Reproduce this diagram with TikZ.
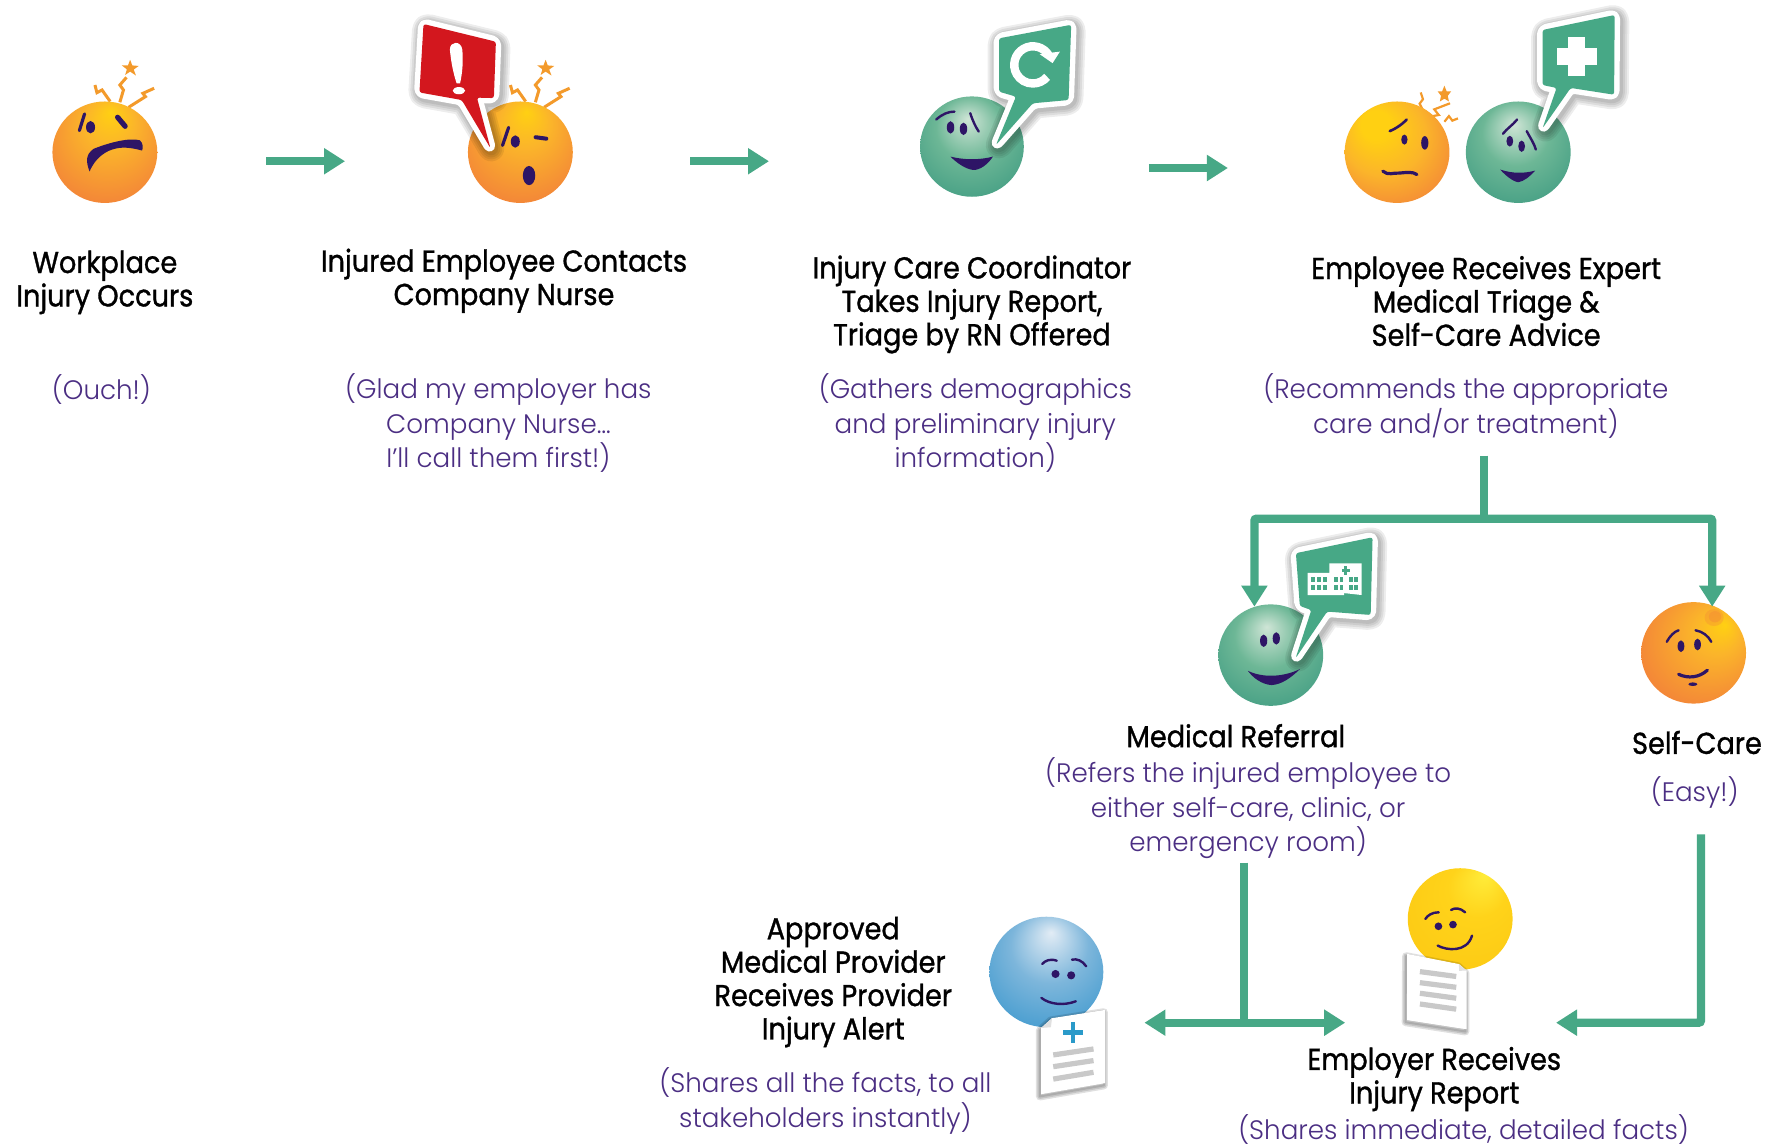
\documentclass[tikz,border=0pt]{standalone}
\usepackage{fontspec}
\usetikzlibrary{arrows.meta}
\newfontfamily\headfont[FakeStretch=0.9,FakeBold=1.1]{Poppins}
\newfontfamily\notefont[FakeStretch=0.98]{Poppins Light}
\definecolor{arrowgreen}{HTML}{47A886}
\definecolor{notepurple}{HTML}{4B2E83}
\definecolor{ink}{HTML}{2E1566}
\definecolor{spark}{HTML}{F39A2B}
\definecolor{bubblered}{HTML}{D3171E}
\definecolor{paperline}{HTML}{C9C9C9}
\definecolor{crossblue}{HTML}{2A9AC9}
\definecolor{oA}{HTML}{FFD012}\definecolor{oB}{HTML}{FBB52A}\definecolor{oC}{HTML}{F48A37}\definecolor{oD}{HTML}{EE6640}
\definecolor{gA}{HTML}{CFE5D6}\definecolor{gB}{HTML}{6DB796}\definecolor{gC}{HTML}{47A085}\definecolor{gD}{HTML}{3B8A76}
\definecolor{bA}{HTML}{E2ECF5}\definecolor{bB}{HTML}{7DB6DB}\definecolor{bC}{HTML}{3F99CE}\definecolor{bD}{HTML}{2F86BD}
\definecolor{yA}{HTML}{FFEC3A}\definecolor{yB}{HTML}{FFD31A}\definecolor{yC}{HTML}{FBC612}
\pgfdeclareradialshading{ballorange}{\pgfpoint{3bp}{20bp}}{color(0bp)=(oA); color(12bp)=(oB); color(30bp)=(oC); color(45bp)=(oD)}
\pgfdeclareradialshading{ballorangeL}{\pgfpoint{-12bp}{16bp}}{color(0bp)=(oA); color(7bp)=(oA); color(20bp)=(oB); color(33bp)=(oC); color(45bp)=(oD)}
\pgfdeclareradialshading{ballorangeR}{\pgfpoint{15bp}{14bp}}{color(0bp)=(oA); color(11bp)=(oB); color(30bp)=(oC); color(46bp)=(oD)}
\pgfdeclareradialshading{ballgreen}{\pgfpoint{-2bp}{14bp}}{color(0bp)=(gA); color(16bp)=(gB); color(32bp)=(gC); color(48bp)=(gD)}
\pgfdeclareradialshading{ballblue}{\pgfpoint{2bp}{18bp}}{color(0bp)=(bA); color(17bp)=(bB); color(36bp)=(bC); color(50bp)=(bD)}
\pgfdeclareradialshading{ballyellow}{\pgfpoint{12bp}{22bp}}{color(0bp)=(yA); color(14bp)=(yB); color(43bp)=(yC)}
\tikzset{
 headtxt/.style={align=center,inner sep=0pt,text=black,font=\headfont\fontsize{15.1}{16.7}\selectfont},
 notetxt/.style={align=center,inner sep=0pt,text=notepurple,font=\notefont\fontsize{13.35}{17.2}\selectfont},
 flow/.style={draw=arrowgreen,line width=4.1pt,-{Triangle[length=10.5pt,width=12.5pt]}},
 flowboth/.style={draw=arrowgreen,line width=4.1pt,{Triangle[length=10.5pt,width=12.5pt]}-{Triangle[length=10.5pt,width=12.5pt]}},
 trunk/.style={draw=arrowgreen,line width=4.1pt},
 feat/.style={draw=ink,line width=1.6pt,line cap=round,line join=round},
 featthin/.style={draw=ink,line width=1.2pt,line cap=round,line join=round},
 blob/.style={fill=ink,draw=none},
 zig/.style={draw=spark,line width=1.5pt,line join=miter},
 paperrule/.style={draw=paperline,line width=2.6pt},
 bubbleoutline/.style={draw=white,line width=5.4pt,line join=round,rounded corners=2pt},
}
\newcommand{\ballat}[5]{\shade[shading=#5] (#1,#2) ellipse [x radius=#3,y radius=#4];}
\newcommand{\softbubble}[2]{%
 \foreach \w in {13,11,9,7}{\draw[black,opacity=.07,line width=\w pt,line join=round,rounded corners=2pt,shift={(1.5,2)}] #1;}
 \draw[bubbleoutline,fill=white] #1;
 \fill[#2,rounded corners=1.2pt] #1;}
\newcommand{\softpaper}[1]{%
 \foreach \w in {4,2.5,1}{\draw[black,opacity=.12,line width=\w pt,line join=round,shift={(-1,2)}] #1;}
 \fill[white] #1;}
\newcommand{\sparksat}[2]{\begin{scope}[shift={(#1,#2)}]
 \draw[zig] (4.7,-45)--(-2.5,-55.2)--(-7,-52.8)--(-8.8,-59.6);
 \draw[zig] (13.3,-44.3)--(16.5,-55.2)--(13.3,-59.6)--(19.2,-66.4);
 \draw[zig] (21,-39.8)--(36,-49.3)--(33.7,-52.2)--(43.7,-56.7);
 \fill[spark] (22.4,-82)--(24.3,-77)--(30,-76.5)--(25.6,-73.3)--(27.6,-68)--(22.4,-71.5)--(18,-68.5)--(19.5,-73.5)--(15,-77)--(20.5,-77)--cycle;
\end{scope}}
\begin{document}
\begin{tikzpicture}[x=0.5638pt,y=-0.5638pt]
\useasboundingbox (0,0) rectangle (1568,1016.4);
\fill[white] (0,0) rectangle (1568,1016.4);

% --- face 1
\sparksat{93}{135}
\ballat{93}{135}{46.5}{45}{ballorange}
\begin{scope}[shift={(93,135)}]
 \draw[feat] (-18,-34)--(-22.6,-19.2);
 \fill[blob] (-12.7,-22.2) ellipse [x radius=4,y radius=5.5];
 \draw[draw=ink,line width=2.6pt,line cap=round] (11.3,-31)--(18,-23);
 \fill[blob] (-13.6,17.1)..controls (-17,8) and (-17,2)..(-10,-3)..controls (5,-9) and (22,-13)..(31,-10.6)..controls (34,-8) and (34,-4)..(33,-1.5)..controls (20,-5) and (12,-5)..(3,-1)..controls (-5,3) and (-10,9)..cycle;
\end{scope}

% --- face 2
\sparksat{461.5}{135}
\ballat{461.5}{135}{46.5}{45}{ballorange}
\begin{scope}[shift={(461.5,135)}]
 \draw[feat] (-10.4,-22)--(-15.8,-6);
 \fill[blob] (-4.5,-9.5) ellipse [x radius=4,y radius=5.5];
 \draw[draw=ink,line width=2pt,line cap=round] (13.5,-13.3)--(23,-12);
 \fill[blob] (7.7,20.7) ellipse [x radius=5.5,y radius=8.5];
\end{scope}
\softbubble{(375.6,21.3)--(439.8,37)--(438,87)--(423,86.6)--(435,131.5)--(409.5,88.7)--(372,82)--cycle}{bubblered}
\fill[white] (399,44)..controls (399,36) and (409,36)..(410,44)..controls (411,55) and (410,65)..(408,74)--(405,74)..controls (402,65) and (400,55)..cycle;
\fill[white] (407,80.4) ellipse [x radius=5.5,y radius=3.2];

% --- face 3
\ballat{862}{130}{46}{44.5}{ballgreen}
\begin{scope}[shift={(862,130)}]
 \draw[featthin] (-31.7,-24)..controls (-26,-29) and (-21,-31)..(-15.6,-31);
 \fill[blob] (-19,-17) ellipse [x radius=3.3,y radius=5.5];
 \fill[blob] (-7.5,-15.7) ellipse [x radius=3.3,y radius=5.5];
 \draw[featthin] (-1.5,-29.6)..controls (1,-22) and (3,-18)..(6,-13.3);
 \fill[blob] (-19,8.9)..controls (-7,12) and (7,12)..(18.6,8.9)..controls (14,16) and (7,21)..(1,20.7)..controls (-6,20) and (-14,14)..cycle;
\end{scope}
\softbubble{(886,34)--(950,22)--(947.7,88.7)--(916,91.6)--(883.3,128.6)--(901,85.7)--(886,81.3)--cycle}{arrowgreen}
\draw[white,line width=4.2pt] (930.3,49.3) arc (-30:-320:16.5);
\fill[white] (940,45.8)--(922,48)--(933.5,56)--cycle;

% --- faces 4 and 5
\draw[zig,line width=1.1pt] (1263.5,100.5)--(1259,92)--(1262,88)--(1260,82);
\draw[zig,line width=1.1pt] (1265,104)--(1276,102)--(1272,97)--(1286,91.6);
\draw[zig,line width=1.1pt] (1281,108)--(1285,103)--(1288,107)--(1293,105);
\fill[spark] (1281,76)--(1283,81)--(1287,81)--(1284,85)--(1285,90)--(1281,87.5)--(1277,90)--(1278,85)--(1275,81)--(1279,81)--cycle;
\ballat{1239}{135}{46.5}{45}{ballorangeL}
\begin{scope}[shift={(1239,135)}]
 \draw[featthin,line width=1.3pt] (-6.5,-18.7)..controls (-3,-20) and (4,-24)..(8.5,-29);
 \fill[blob] (6.5,-11.2) ellipse [x radius=2.8,y radius=4.5];
 \fill[blob] (24.6,-8.3) ellipse [x radius=3.2,y radius=6];
 \draw[feat] (-12.6,16.8)..controls (-8,21) and (-3,18)..(2,18.5)..controls (8,18) and (14,17)..(17.6,19.8);
\end{scope}
\ballat{1346.5}{135}{46.5}{45}{ballgreen}
\begin{scope}[shift={(1346.5,135)}]
 \draw[featthin] (-13.6,-16.3)..controls (-10,-21) and (-5,-24)..(-1,-29);
 \fill[blob] (-7.5,-9.8) ellipse [x radius=3,y radius=4.8];
 \fill[blob] (3,-5.3) ellipse [x radius=3,y radius=5];
 \draw[featthin] (7.5,-18.7)..controls (11,-12) and (14,-8)..(15.6,-2.4);
 \fill[blob] (-16,15.4)..controls (-5,19) and (5,19)..(15,16.3)..controls (11,21) and (5,26)..(0,26.6)..controls (-5,26) and (-12,20)..cycle;
\end{scope}
\softbubble{(1368,26.6)--(1432,13.3)--(1431.5,84)--(1393,78)--(1368,113.8)--(1380.5,78)--(1368,75.4)--cycle}{arrowgreen}
\fill[white] (1391,32.5) rectangle (1406,67.5);
\fill[white] (1380.5,42.5) rectangle (1416,57.5);

% --- face 6
\ballat{1127}{581}{46.5}{45}{ballgreen}
\begin{scope}[shift={(1127,581)}]
 \fill[blob] (-6.3,-12.7) ellipse [x radius=3.2,y radius=5.5];
 \fill[blob] (4.9,-14.8) ellipse [x radius=3.2,y radius=5.5];
 \fill[blob] (-20.3,13.9)..controls (-8,20) and (10,20)..(25.9,12.4)..controls (18,20) and (10,26)..(0.7,26.6)..controls (-8,26) and (-16,20)..cycle;
\end{scope}
\softbubble{(1149.3,490.6)--(1217.3,476.5)--(1215.6,545.4)--(1177,542.4)--(1149,583.8)--(1163,541)--(1152.8,537.5)--cycle}{arrowgreen}
\fill[white] (1159.6,508)--(1179,508)--(1179,499.6)--(1207.6,499.6)--(1207.6,527.7)--(1192,526)--(1192,527.7)--(1159.6,527.7)--cycle;
\foreach \wx in {1163,1168,1173}{\fill[arrowgreen] (\wx,512) rectangle ++(3.5,4); \fill[arrowgreen] (\wx,519) rectangle ++(3.5,4);}
\foreach \wx in {1183,1188,1196,1201}{\fill[arrowgreen] (\wx,512) rectangle ++(3.5,4); \fill[arrowgreen] (\wx,519) rectangle ++(3.5,4);}
\fill[arrowgreen] (1192.2,502) rectangle (1195,510);
\fill[arrowgreen] (1190,504.7) rectangle (1197.2,507.2);

% --- face 7
\ballat{1502}{579}{46.5}{45}{ballorangeR}
\fill[oC,opacity=.35] (1520.2,547.7) ellipse [x radius=8.5,y radius=7.5];
\fill[oC,opacity=.45] (1521,547) ellipse [x radius=5.5,y radius=5];
\begin{scope}[shift={(1502,579)}]
 \draw[featthin] (-23.8,-9.8)..controls (-21,-15) and (-17,-19)..(-13.3,-20);
 \draw[featthin] (1.7,-20)..controls (8,-19) and (13,-15)..(15.7,-9.8);
 \fill[blob] (-11.2,-5.9) ellipse [x radius=3,y radius=5.2];
 \fill[blob] (3.5,-7.4) ellipse [x radius=3,y radius=5.2];
 \draw[feat] (-13.3,19)..controls (-5,23) and (5,22)..(12.2,15.4);
 \fill[blob] (-0.7,27.8) ellipse [x radius=4,y radius=1.6];
\end{scope}

% --- face 8 with report
\ballat{928}{862}{50.5}{49}{ballblue}
\begin{scope}[shift={(928,862)}]
 \draw[featthin] (-3.7,-7.1)..controls (-1,-10) and (3,-12)..(9.2,-10);
 \draw[featthin] (22.7,-10.9)..controls (27,-12) and (32,-10)..(35.3,-5);
 \fill[blob] (8.1,1.8) circle (3.6);
 \fill[blob] (22,3) circle (3.6);
 \draw[featthin] (-4.4,23)..controls (3,29) and (16,30)..(26.1,26);
\end{scope}
\softpaper{(933,903)--(980,895.7)--(980,960.6)--(923.3,970.4)--(923.3,911.7)--cycle}
\fill[black!12] (933,903)--(923.3,911.7)--(932,911)--cycle;
\fill[crossblue] (949.8,906.3) rectangle (953.8,925);
\fill[crossblue] (942.8,913.6) rectangle (960.8,917.6);
\draw[paperrule] (934.1,935.6)--(969.8,930.3);
\draw[paperrule] (934.1,946)--(969.8,940.6);
\draw[paperrule] (934.1,957)--(969.8,951);

% --- face 9 with report
\ballat{1295}{815}{46.5}{45}{ballyellow}
\begin{scope}[shift={(1295,815)}]
 \draw[featthin] (-30.9,0)..controls (-29,-3) and (-25,-6)..(-19,-5.9);
 \draw[featthin] (-8.1,-8)..controls (-5,-10) and (0,-10)..(4.4,-5.9);
 \fill[blob] (-19.3,6.5) circle (3.4);
 \fill[blob] (-6.4,5) circle (3.4);
 \draw[featthin,line width=1.2pt] (-20,23.6)..controls (-12,28) and (6,30)..(10.5,14.8);
\end{scope}
\softpaper{(1248,846)--(1293.9,855)--(1300.6,860.8)--(1300.6,912.8)--(1247.7,904.6)--cycle}
\fill[black!12] (1293.9,855)--(1300.6,860.8)--(1294,861)--cycle;
\draw[paperrule] (1259.3,861.7)--(1291.5,866);
\draw[paperrule] (1259.3,871.5)--(1291.5,875.6);
\draw[paperrule] (1259.3,880.9)--(1291.5,885.3);
\draw[paperrule] (1259.3,890.4)--(1291.5,895);

% --- connector ends
\coordinate (a1s) at (236,143); \coordinate (a1e) at (306,143);
\coordinate (a2s) at (612,143); \coordinate (a2e) at (682,143);
\coordinate (a3s) at (1019,149); \coordinate (a3e) at (1089,149);
\coordinate (root) at (1316,404); \coordinate (fork) at (1316,460);
\coordinate (refer) at (1112.5,538); \coordinate (selfc) at (1518.5,538);
\coordinate (mstart) at (1103,765); \coordinate (mjoin) at (1103,907);
\coordinate (toprov) at (1015,907); \coordinate (toemp) at (1193,907);
\coordinate (sstart) at (1508.5,740); \coordinate (semp) at (1380,907);

% --- connectors
\draw[flow] (a1s)--(a1e);
\draw[flow] (a2s)--(a2e);
\draw[flow] (a3s)--(a3e);
\draw[trunk] (root)--(fork);
\draw[flow,rounded corners=1pt] (fork)-|(refer);
\draw[flow,rounded corners=1pt] (fork)-|(selfc);
\draw[trunk] (mstart)--(mjoin);
\draw[flowboth] (toprov)--(toemp);
\draw[flow,rounded corners=1pt] (sstart)|-(semp);

% --- labels
\node[headtxt] (t1) at (93,250.5) {Workplace\\Injury Occurs};
\node[headtxt] (t2) at (447,249) {Injured Employee Contacts\\Company Nurse};
\node[headtxt] (t3) at (862,270) {Injury Care Coordinator\\Takes Injury Report,\\Triage by RN Offered};
\node[headtxt] (t4) at (1318,267) {Employee Receives Expert\\Medical Triage \&\\Self-Care Advice};
\node[notetxt] (n1) at (90,345.5) {(Ouch!)};
\node[notetxt] (n2) at (442,375.5) {(Glad my employer has\\Company Nurse…\\I’ll call them first!)};
\node[notetxt] (n3) at (865,375.5) {(Gathers demographics\\and preliminary injury\\information)};
\node[notetxt] (n4) at (1300,360) {(Recommends the appropriate\\care and/or treatment)};
\node[headtxt] (t5) at (1096,652.5) {Medical Referral};
\node[notetxt] (n5) at (1107,717) {(Refers the injured employee to\\either self-care, clinic, or\\emergency room)};
\node[headtxt] (t6) at (1505,658.5) {Self-Care};
\node[notetxt] (n6) at (1503,702.5) {(Easy!)};
\node[headtxt] (t7) at (739,871) {Approved\\Medical Provider\\Receives Provider\\Injury Alert};
\node[notetxt] (n7) at (732,976.5) {(Shares all the facts, to all\\stakeholders instantly)};
\node[headtxt] (t8) at (1272,957) {Employer Receives\\Injury Report};
\node[notetxt] (n8) at (1298,1002) {(Shares immediate, detailed facts)};
\end{tikzpicture}
\end{document}
